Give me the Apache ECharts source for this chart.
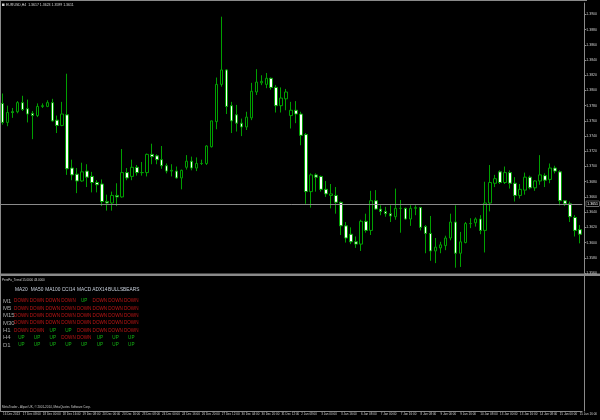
<!DOCTYPE html>
<html>
<head>
<meta charset="utf-8">
<script src="https://cdn.jsdelivr.net/npm/echarts@6/dist/echarts.min.js"></script>
<style>html,body{margin:0;padding:0;background:#000;}#c{width:600px;height:420px;}</style>
</head>
<body>
<div id="c"></div>
<script>
// ---- Data (EURUSD H4) ----
const opens = [1.3783,1.3758,1.3772,1.3772,1.3784,1.3776,1.3770,1.3767,1.3779,1.3779,1.3784,1.3761,1.3754,1.3768,1.3698,1.3690,1.3681,1.3694,1.3687,1.3679,
1.3677,1.3654,1.3652,1.3662,1.3660,1.3692,1.3687,1.3699,1.3692,1.3692,1.3716,1.3714,1.3709,1.3701,1.3694,1.3694,1.3685,1.3699,1.3707,1.3698,
1.3704,1.3704,1.3726,1.3759,1.3808,1.3827,1.3780,1.3768,1.3757,1.3752,1.3764,1.3798,1.3810,1.3808,1.3816,1.3804,1.3780,1.3789,1.3767,1.3774,
1.3769,1.3742,1.3667,1.3689,1.3687,1.3670,1.3662,1.3662,1.3653,1.3622,1.3611,1.3601,1.3598,1.3628,1.3616,1.3655,1.3644,1.3641,1.3638,1.3634,
1.3645,1.3645,1.3631,1.3645,1.3646,1.3621,1.3612,1.3589,1.3593,1.3596,1.3606,1.3627,1.3586,1.3600,1.3625,1.3626,1.3631,1.3616,1.3652,1.3678,
1.3693,1.3679,1.3692,1.3678,1.3662,1.3669,1.3686,1.3672,1.3681,1.3688,1.3683,1.3698,1.3693,1.3655,1.3651,1.3633,1.3617];
const closes = [1.3758,1.3771,1.3771,1.3784,1.3775,1.3769,1.3767,1.3779,1.3780,1.3784,1.3760,1.3754,1.3769,1.3697,1.3689,1.3681,1.3693,1.3686,1.3679,1.3676,
1.3654,1.3652,1.3662,1.3660,1.3692,1.3685,1.3699,1.3692,1.3692,1.3716,1.3713,1.3709,1.3701,1.3694,1.3695,1.3685,1.3695,1.3707,1.3698,1.3704,
1.3704,1.3727,1.3760,1.3808,1.3827,1.3779,1.3760,1.3757,1.3752,1.3765,1.3799,1.3811,1.3812,1.3816,1.3804,1.3780,1.3790,1.3798,1.3774,1.3769,
1.3741,1.3667,1.3689,1.3686,1.3670,1.3664,1.3664,1.3653,1.3622,1.3606,1.3601,1.3598,1.3628,1.3616,1.3655,1.3644,1.3641,1.3638,1.3635,1.3645,
1.3645,1.3631,1.3645,1.3646,1.3620,1.3612,1.3589,1.3594,1.3597,1.3606,1.3627,1.3586,1.3601,1.3625,1.3625,1.3631,1.3616,1.3652,1.3679,1.3684,
1.3679,1.3692,1.3678,1.3662,1.3670,1.3686,1.3672,1.3681,1.3689,1.3682,1.3698,1.3694,1.3655,1.3651,1.3634,1.3616,1.3611];
const lows = [1.3755,1.3753,1.3764,1.3770,1.3773,1.3758,1.3736,1.3765,1.3777,1.3778,1.3759,1.3744,1.3753,1.3689,1.3682,1.3665,1.3680,1.3673,1.3666,1.3666,
1.3648,1.3642,1.3642,1.3648,1.3659,1.3682,1.3682,1.3688,1.3688,1.3687,1.3703,1.3703,1.3697,1.3691,1.3687,1.3684,1.3670,1.3696,1.3695,1.3694,
1.3702,1.3702,1.3725,1.3749,1.3805,1.3769,1.3744,1.3746,1.3740,1.3748,1.3761,1.3794,1.3807,1.3803,1.3801,1.3771,1.3771,1.3774,1.3750,1.3757,
1.3728,1.3651,1.3646,1.3667,1.3667,1.3660,1.3645,1.3638,1.3610,1.3600,1.3598,1.3593,1.3589,1.3613,1.3610,1.3643,1.3636,1.3634,1.3627,1.3630,
1.3613,1.3630,1.3622,1.3636,1.3616,1.3586,1.3576,1.3573,1.3586,1.3590,1.3603,1.3567,1.3568,1.3599,1.3619,1.3621,1.3611,1.3587,1.3641,1.3673,
1.3677,1.3677,1.3671,1.3654,1.3658,1.3663,1.3670,1.3668,1.3676,1.3673,1.3678,1.3691,1.3649,1.3648,1.3627,1.3608,1.3599];
const highs = [1.3796,1.3780,1.3777,1.3786,1.3793,1.3788,1.3773,1.3783,1.3783,1.3787,1.3789,1.3767,1.3785,1.3822,1.3709,1.3698,1.3705,1.3703,1.3693,1.3682,
1.3683,1.3663,1.3667,1.3678,1.3723,1.3698,1.3709,1.3702,1.3706,1.3717,1.3730,1.3716,1.3727,1.3704,1.3703,1.3700,1.3696,1.3715,1.3713,1.3712,
1.3709,1.3728,1.3760,1.3817,1.3897,1.3828,1.3785,1.3781,1.3763,1.3772,1.3810,1.3828,1.3820,1.3823,1.3817,1.3807,1.3804,1.3802,1.3785,1.3786,
1.3772,1.3744,1.3691,1.3691,1.3688,1.3681,1.3677,1.3673,1.3654,1.3627,1.3620,1.3608,1.3630,1.3638,1.3668,1.3669,1.3649,1.3647,1.3649,1.3671,
1.3656,1.3646,1.3649,1.3649,1.3647,1.3623,1.3635,1.3606,1.3601,1.3609,1.3638,1.3649,1.3614,1.3627,1.3632,1.3633,1.3636,1.3680,1.3702,1.3689,
1.3695,1.3700,1.3695,1.3686,1.3677,1.3692,1.3688,1.3682,1.3715,1.3691,1.3704,1.3701,1.3695,1.3656,1.3654,1.3636,1.3623];
const bidPrice = 1.3651;
const timeLabels = ['16 Dec 2013','17 Dec 08:00','18 Dec 00:00','18 Dec 16:00','19 Dec 08:00','20 Dec 00:00','20 Dec 16:00','23 Dec 08:00','24 Dec 00:00','24 Dec 16:00',
'26 Dec 20:00','27 Dec 12:00','30 Dec 04:00','30 Dec 20:00','31 Dec 12:00','2 Jan 08:00','3 Jan 00:00','3 Jan 16:00','6 Jan 08:00','7 Jan 00:00',
'7 Jan 16:00','8 Jan 08:00','9 Jan 00:00','9 Jan 16:00','10 Jan 08:00','13 Jan 00:00','13 Jan 16:00','14 Jan 08:00','15 Jan 00:00','15 Jan 16:00'];
// indicator table
const indicators = ['MA20','MA50','MA100','CCI14','MACD','ADX14','BULLS','BEARS'];
const timeframes = ['M1','M5','M15','M30','H1','H4','D1'];
const sigM1  = ['DOWN','DOWN','DOWN','DOWN','UP','DOWN','DOWN','DOWN'];
const sigM5  = ['DOWN','DOWN','DOWN','DOWN','DOWN','DOWN','DOWN','DOWN'];
const sigM15 = ['DOWN','DOWN','DOWN','DOWN','DOWN','DOWN','DOWN','DOWN'];
const sigM30 = ['DOWN','DOWN','DOWN','DOWN','DOWN','DOWN','DOWN','DOWN'];
const sigH1  = ['DOWN','DOWN','UP','UP','DOWN','DOWN','DOWN','DOWN'];
const sigH4  = ['UP','UP','UP','DOWN','DOWN','UP','UP','UP'];
const sigD1  = ['UP','UP','UP','UP','UP','UP','UP','UP'];
const headerText = 'EURUSD,H4  1.3617 1.3623 1.3599 1.3611';
const panelTitle = 'PerePo_Trend 15.0000 43.0000';
const footerText = 'MetaTrader - Alpari UK, \u00a9 2001-2014, MetaQuotes Software Corp.';

// ---- Build ----
const categories = opens.map((_, i) => String(i));
const ohlc = opens.map((o, i) => [o, closes[i], lows[i], highs[i]]);
const signalRows = [sigM1, sigM5, sigM15, sigM30, sigH1, sigH4, sigD1];
const cellData = [];
const cellText = [];
signalRows.forEach((row, r) => row.forEach((s, c) => {
  cellText.push(s);
  cellData.push({ value: [indicators[c], timeframes[r]], label: { color: s === 'UP' ? '#18e018' : '#f01c1c' } });
}));

const FONT = 'Liberation Sans';
const GREEN = '#00a000';
const chart = echarts.init(document.getElementById('c'), null, { renderer: 'canvas' });
chart.setOption({
  backgroundColor: '#000000',
  animation: false,
  textStyle: { fontFamily: FONT },
  grid: [
    { left: -1, width: 585, top: 3, height: 270 },
    { left: -1, width: 585, top: 276, height: 135 },
    { left: 13.5, width: 125.6, top: 297.5, height: 51.3 }
  ],
  xAxis: [
    { gridIndex: 0, type: 'category', data: categories, show: false },
    { gridIndex: 1, type: 'category', data: categories,
      axisLine: { lineStyle: { color: '#8a8a8a', width: 1 } },
      axisTick: { alignWithLabel: true, interval: 3, length: 4, lineStyle: { color: '#8a8a8a' } },
      axisLabel: { interval: 3, align: 'left', margin: 2, fontSize: 3, color: '#d0d0d0', fontFamily: FONT,
        formatter: (v, i) => timeLabels[i / 4] || '' },
      splitLine: { show: false } },
    { gridIndex: 2, type: 'category', data: indicators, position: 'top',
      axisLine: { show: false }, axisTick: { show: false },
      axisLabel: { interval: 0, margin: 5.5, fontSize: 4.8, color: '#c8d0dc', fontFamily: FONT } }
  ],
  yAxis: [
    { gridIndex: 0, type: 'value', position: 'right', offset: 2, min: 1.3560, max: 1.3915, interval: 0.002,
      axisLine: { show: true, lineStyle: { color: '#8a8a8a' } },
      axisTick: { show: true, length: 2, lineStyle: { color: '#8a8a8a' } },
      axisLabel: { margin: 2, fontSize: 3.5, color: '#d0d0d0', showMaxLabel: false, fontFamily: FONT,
        formatter: v => v.toFixed(4) },
      splitLine: { show: false } },
    { gridIndex: 1, type: 'value', position: 'right', offset: 2, min: 0, max: 1,
      axisLine: { show: true, lineStyle: { color: '#8a8a8a' } },
      axisTick: { show: false }, axisLabel: { show: false }, splitLine: { show: false } },
    { gridIndex: 2, type: 'category', data: timeframes, inverse: true,
      axisLine: { show: false }, axisTick: { show: false },
      axisLabel: { interval: 0, align: 'left', margin: 10.5, fontSize: 6, color: '#a8a8a8', fontFamily: FONT } }
  ],
  series: [
    { type: 'candlestick', xAxisIndex: 0, yAxisIndex: 0, data: ohlc, barWidth: 3,
      itemStyle: { color: '#000000', color0: '#ffffff', borderColor: GREEN, borderColor0: GREEN,
        borderColorDoji: GREEN, borderWidth: 1 },
      markLine: { silent: true, symbol: 'none', animation: false, precision: 4,
        lineStyle: { color: '#8a8a8a', type: 'solid', width: 1 },
        label: { position: 'end', distance: 4, fontSize: 3.5, color: '#ffffff', backgroundColor: '#000000',
          borderColor: '#c0c0c0', borderWidth: 0.5, padding: [0.5, 1], fontFamily: FONT,
          formatter: () => bidPrice.toFixed(4) },
        data: [{ yAxis: bidPrice }] } },
    { type: 'scatter', xAxisIndex: 2, yAxisIndex: 2, data: cellData, symbolSize: 2,
      itemStyle: { color: 'rgba(0,0,0,0)' },
      label: { show: true, position: 'inside', fontSize: 4.6, fontFamily: FONT,
        formatter: p => cellText[p.dataIndex] } }
  ],
  graphic: [
    { type: 'rect', shape: { x: 0, y: 0, width: 587, height: 1 }, style: { fill: '#8a8a8a' }, silent: true },
    { type: 'rect', shape: { x: 0, y: 0, width: 1, height: 411 }, style: { fill: '#8a8a8a' }, silent: true },
    { type: 'rect', shape: { x: 0, y: 273.5, width: 600, height: 2.5 }, style: { fill: '#8a8a8a' }, silent: true },
    { type: 'rect', shape: { x: 2, y: 3.5, width: 2.5, height: 2.5 }, style: { fill: '#d0d0d0' }, silent: true },
    { type: 'text', x: 6, y: 4.8, style: { text: headerText, fill: '#d8d8d8', font: '3.5px ' + FONT, textVerticalAlign: 'middle' }, silent: true },
    { type: 'text', x: 2, y: 280, style: { text: panelTitle, fill: '#d0d0d0', font: '3px ' + FONT, textVerticalAlign: 'middle' }, silent: true },
    { type: 'text', x: 2, y: 407.5, style: { text: footerText, fill: '#c8c8c8', font: '3px ' + FONT, textVerticalAlign: 'middle' }, silent: true }
  ]
});
</script>
</body>
</html>
